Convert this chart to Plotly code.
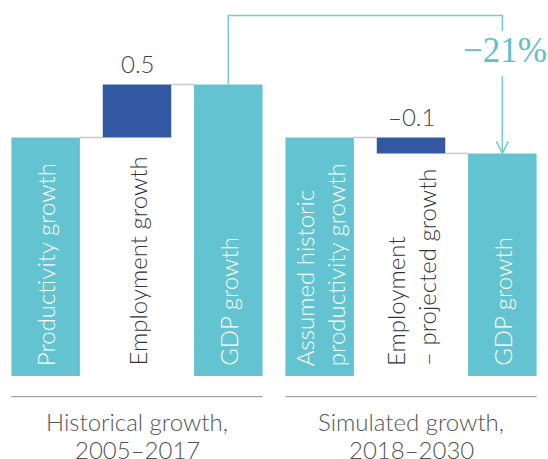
import plotly.graph_objects as go

# ---- data ----
categories = ["Productivity growth", "Employment growth", "GDP growth",
              "Assumed historic<br>productivity growth", "Employment<br>– projected growth", "GDP growth"]
hist_values = [2.25, 0.5, 2.75]     # productivity, employment, GDP (historical)
sim_values = [2.25, -0.15, 2.1]     # productivity, employment, GDP (simulated)
value_labels = ["0.5", "–0.1"]
group_labels = [["Historical growth,", "2005–2017"], ["Simulated growth,", "2018–2030"]]
change_label = "−21%"

TEAL = "#64c3d0"
BLUE = "#3358a2"
ARROW = "#72cad6"
FONT = "Lato"

# waterfall geometry from data
xs, ys, bases, colors = [], [], [], []
for g, vals in enumerate([hist_values, sim_values]):
    off = g * 3
    xs += [off, off + 1, off + 2]
    ys += [vals[0], vals[1], vals[2]]
    bases += [0, vals[0], 0]
    colors += [TEAL, BLUE, TEAL]

W = 0.75
fig = go.Figure(go.Bar(x=xs, y=ys, base=bases, width=W, marker_color=colors,
                       marker_line_width=0, hoverinfo="skip"))

shapes = []
annotations = []
for g, vals in enumerate([hist_values, sim_values]):
    off = g * 3
    prod, emp, gdp = vals
    # connectors
    shapes.append(dict(type="line", xref="x", yref="y", x0=off + W / 2, x1=off + 1 - W / 2,
                       y0=prod, y1=prod, line=dict(color="#c9c9c9", width=1.5)))
    shapes.append(dict(type="line", xref="x", yref="y", x0=off + 1 + W / 2, x1=off + 2 - W / 2,
                       y0=prod + emp, y1=prod + emp, line=dict(color="#c9c9c9", width=1.5)))
    # separator line
    shapes.append(dict(type="line", xref="x", yref="y", x0=off - W / 2, x1=off + 2 + W / 2,
                       y0=-0.195, y1=-0.195, line=dict(color="#8c8c8c", width=1)))
    # value label
    annotations.append(dict(x=off + 1, y=max(prod, prod + emp), xref="x", yref="y",
                            text=value_labels[g], showarrow=False, yanchor="bottom", yshift=4,
                            font=dict(family=FONT, size=24, color="#444444", weight=300)))
    # group label (two lines)
    for k, line in enumerate(group_labels[g]):
        annotations.append(dict(x=off + 1, y=-0.195, xref="x", yref="y", text=line,
                                showarrow=False, yanchor="middle", yshift=-25 - 28 * k,
                                font=dict(family=FONT, size=24, color="#555555", weight=300)))

for i, cat in enumerate(categories):
    col = "#333333" if i % 3 == 1 else "white"
    annotations.append(dict(x=i, y=0, xref="x", yref="y", text=cat, showarrow=False,
                            textangle=-90, yanchor="bottom", xanchor="center", yshift=8,
                            align="left",
                            font=dict(family=FONT, size=24, color=col, weight=300)))

# change arrow
top = 3.40
g_hist = hist_values[2]
g_sim = sim_values[2]
shapes.append(dict(type="path", xref="x", yref="y",
                   path=f"M 2,{g_hist} V {top} H 5 V 3.255",
                   line=dict(color=ARROW, width=1.5)))
shapes.append(dict(type="line", xref="x", yref="y", x0=5, x1=5, y0=2.83, y1=g_sim,
                   line=dict(color=ARROW, width=1.5)))
shapes.append(dict(type="path", xref="x", yref="y",
                   path=f"M {5-0.066},{g_sim+0.113} L 5,{g_sim} L {5+0.066},{g_sim+0.113}",
                   line=dict(color=ARROW, width=1.5)))
annotations.append(dict(x=5, y=3.066, xref="x", yref="y", text=change_label, showarrow=False,
                        xshift=3, font=dict(family="Liberation Serif", size=35, color="#5fc0cc")))

fig.update_layout(
    width=548, height=459,
    margin=dict(l=0, r=0, t=0, b=0),
    plot_bgcolor="white", paper_bgcolor="white",
    showlegend=False,
    xaxis=dict(range=[-0.5, 5.5], visible=False, fixedrange=True),
    yaxis=dict(range=[-0.783, 3.547], visible=False, fixedrange=True),
    shapes=shapes, annotations=annotations,
)

fig.write_html("out.html", config={"displayModeBar": False},
               post_script="document.body.style.margin='0';document.body.style.overflow='hidden';")
